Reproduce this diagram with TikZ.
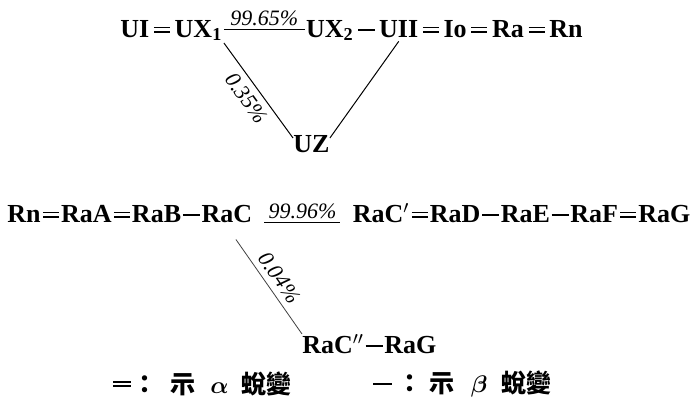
\documentclass[tikz,border=0pt]{standalone}
\usepackage{fontspec}
\setmainfont{Liberation Serif}
\newfontfamily\cjk{Noto Sans CJK TC}
\usepackage{bm}
\usetikzlibrary{positioning,calc}

\begin{document}
\begin{tikzpicture}[x=0.5pt,y=-0.5pt]
 \tikzstyle{elem}=[anchor=base,inner sep=0pt,text height=9.3pt,text depth=2pt,
   font=\fontsize{13}{15}\selectfont\bfseries]
 \tikzstyle{adecay}=[double,line width=0.9pt,double distance=1.4pt]
 \tikzstyle{bdecay}=[line width=1.1pt]
 \tikzstyle{branch}=[line width=0.5pt]
 \tikzstyle{pct}=[font=\fontsize{11}{13}\selectfont\itshape,inner sep=1.5pt]
 \tikzstyle{legend}=[anchor=west,inner sep=0pt,
   font=\cjk\fontsize{12.5}{15}\selectfont\bfseries]
 \useasboundingbox (0,0) rectangle (700,407);
 % uranium series
 \begin{scope}[node distance=12.3pt]
 \node (ui) [elem,anchor=base west] at (120,37) {UI};
 \node (ux1) [elem,right=of ui] {UX\textsubscript{1}};
 \node (ux2) [elem,right=41.5pt of ux1] {UX\textsubscript{2}};
 \node (uii) [elem,right=of ux2] {UII};
 \node (io) [elem,right=of uii] {Io};
 \node (ra) [elem,right=of io] {Ra};
 \node (rn1) [elem,right=of ra] {Rn};
 \end{scope}
 \node (uz) [elem,anchor=base west] at (293,152) {UZ};
 % radon series
 \begin{scope}[node distance=9.8pt]
 \node (rn2) [elem,anchor=base west] at (7,222) {Rn};
 \node (raa) [elem,right=of rn2] {RaA};
 \node (rab) [elem,right=of raa] {RaB};
 \node (rac) [elem,right=of rab] {RaC};
 \node (racp) [elem,right=50pt of rac] {RaC$'$};
 \node (rad) [elem,right=of racp] {RaD};
 \node (rae) [elem,right=of rad] {RaE};
 \node (raf) [elem,right=of rae] {RaF};
 \node (rag1) [elem,right=of raf] {RaG};
 \end{scope}
 \node (racpp) [elem,anchor=base west] at (302,353) {RaC$''$};
 \node (rag2) [elem,right=9.8pt of racpp] {RaG};
 % alpha and beta steps, one sign centred in each gap
 \foreach \a/\b in {ui/ux1,uii/io,io/ra,ra/rn1,rn2/raa,raa/rab,racp/rad,raf/rag1}
   \draw[adecay] ($(\a.east)!.5!(\b.west)+(-8,0)$) -- ++(16,0);
 \foreach \a/\b in {ux2/uii,rab/rac,rad/rae,rae/raf,racpp/rag2}
   \draw[bdecay] ($(\a.east)!.5!(\b.west)+(-8.5,0)$) -- ++(17,0);
 % branchings
 \draw[branch,shorten >=0.5pt,shorten <=0.5pt] (ux1.east)
   -- node[pct,above]{99.65\%} (ux2.west);
 \draw[branch,shorten <=1pt] (ux1.south east)
   -- node[pct,sloped,below,inner sep=3pt]{0.35\%} (uz.160);
 \draw[branch] (uz.20) -- (uii.south);
 \draw[branch,shorten >=6pt,shorten <=6pt] ([yshift=-4pt]rac.east)
   -- node[pct,above]{99.96\%} ([yshift=-4pt]racp.west);
 \draw[branch,line width=0.4pt,black!75,shorten <=8pt] (rac.south)
   -- node[pct,sloped,above,pos=0.55,inner sep=3pt,black]{0.04\%} (racpp.north west);
 % legend
 \coordinate (ka1) at (113,384);
 \coordinate (ka2) at (131,384);
 \draw[adecay] (ka1) -- (ka2);
 \node (lega) [legend] at (132,384)
   {：\hspace{6.5pt}示\hspace{7.5pt}$\bm\alpha$\hspace{6.5pt}蛻變};
 \coordinate (kb1) at (373,384);
 \coordinate (kb2) at (392,384);
 \draw[bdecay] (kb1) -- (kb2);
 \node (legb) [legend] at (397.5,384)
   {：\hspace{3.5pt}示\hspace{8pt}$\bm\beta$\hspace{7pt}蛻變};
\end{tikzpicture}
\end{document}
